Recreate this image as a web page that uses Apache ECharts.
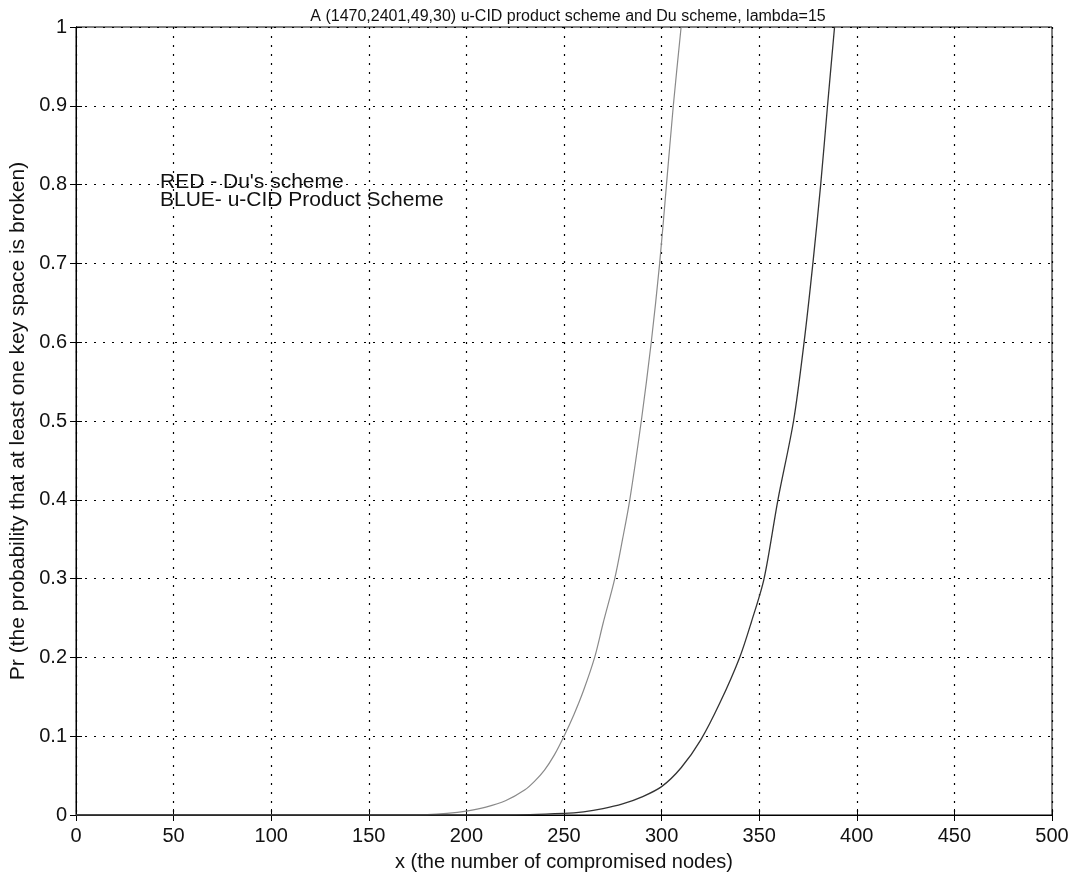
<!DOCTYPE html>
<html>
<head>
<meta charset="utf-8">
<title>u-CID product scheme and Du scheme</title>
<script src="https://cdn.jsdelivr.net/npm/echarts@6/dist/echarts.min.js"></script>
<style>
  html, body { margin: 0; padding: 0; background: #fff; }
  #chart { width: 1079px; height: 877px; }
</style>
</head>
<body>
<div id="chart"></div>
<script>
// x ticks / y ticks
const xTicks = [0, 50, 100, 150, 200, 250, 300, 350, 400, 450, 500];
const yTicks = [0, 0.1, 0.2, 0.3, 0.4, 0.5, 0.6, 0.7, 0.8, 0.9, 1];

// Du's scheme (left curve)
const duX = [0, 150, 180, 190, 200, 210, 220, 230, 235, 240, 245, 250, 255, 260, 265.7, 270, 276, 280, 283.7, 289.6, 294.7, 299, 302.5, 306, 310];
const duY = [0, 0, 0.0005, 0.002, 0.005, 0.01, 0.018, 0.032, 0.043, 0.057, 0.076, 0.1, 0.127, 0.158, 0.2, 0.243, 0.3, 0.35, 0.4, 0.5, 0.6, 0.7, 0.8, 0.9, 1.0];

// u-CID product scheme (right curve)
const cidX = [0, 220, 250, 260, 270, 280, 290, 300, 310, 320, 330, 340, 346, 352.5, 359.6, 367.6, 373, 377.5, 381.5, 385, 388.6];
const cidY = [0, 0, 0.002, 0.004, 0.008, 0.014, 0.023, 0.036, 0.06, 0.095, 0.143, 0.2, 0.245, 0.3, 0.4, 0.5, 0.6, 0.7, 0.8, 0.9, 1.0];

const zip = (xs, ys) => xs.map((x, i) => [x, ys[i]]);

const chart = echarts.init(document.getElementById('chart'));

const font = 'Liberation Sans, Arial, sans-serif';

const baseX = {
  type: 'value',
  min: 0,
  max: 500,
  interval: 50,
  axisLine: { show: true, lineStyle: { color: '#000', width: 1 } },
  axisTick: { show: true, inside: true, length: 6, lineStyle: { color: '#000' } },
  splitLine: { show: false }
};
const baseY = {
  type: 'value',
  min: 0,
  max: 1,
  interval: 0.1,
  axisLine: { show: true, lineStyle: { color: '#000', width: 1 } },
  axisTick: { show: true, inside: true, length: 6, lineStyle: { color: '#000' } },
  splitLine: { show: false }
};

const option = {
  backgroundColor: '#fff',
  animation: false,
  title: {
    text: 'A (1470,2401,49,30) u-CID product scheme and Du scheme, lambda=15',
    left: 563,
    textAlign: 'center',
    top: 4,
    textStyle: { fontFamily: font, fontSize: 16, fontWeight: 'normal', color: '#111' }
  },
  grid: {
    left: 76,
    right: 27,
    top: 27,
    bottom: 62,
    containLabel: false,
    outerBoundsMode: 'none',
    show: true,
    borderColor: '#000',
    borderWidth: 1
  },
  xAxis: [
    Object.assign({}, baseX, {
      position: 'bottom',
      name: 'x (the number of compromised nodes)',
      nameLocation: 'middle',
      nameGap: 37,
      nameTextStyle: { fontFamily: font, fontSize: 20, color: '#111' },
      axisLabel: {
        fontFamily: font, fontSize: 20, color: '#111', margin: 11,
        formatter: v => (xTicks.includes(v) ? String(v) : '')
      },
      splitLine: { show: true, lineStyle: { color: '#000', type: [2, 7], width: 1.2 } }
    }),
    Object.assign({}, baseX, { position: 'top', axisLabel: { show: false } })
  ],
  yAxis: [
    Object.assign({}, baseY, {
      position: 'left',
      name: 'Pr (the probability that at least one key space is broken)',
      nameLocation: 'middle',
      nameGap: 47,
      nameTextStyle: { fontFamily: font, fontSize: 21, color: '#111' },
      axisLabel: {
        fontFamily: font, fontSize: 20, color: '#111', margin: 9,
        formatter: v => {
          const t = yTicks.find(k => Math.abs(k - v) < 1e-9);
          return t === undefined ? '' : String(t);
        }
      },
      splitLine: { show: true, lineStyle: { color: '#000', type: [2, 7], width: 1.2 } }
    }),
    Object.assign({}, baseY, { position: 'right', axisLabel: { show: false } })
  ],
  graphic: [
    {
      type: 'text', left: 160, top: 172,
      style: { text: "RED - Du's scheme", font: '21px ' + font, fill: '#111' }
    },
    {
      type: 'text', left: 160, top: 190,
      style: { text: 'BLUE- u-CID Product Scheme', font: '21px ' + font, fill: '#111' }
    }
  ],
  series: [
    {
      name: "Du's scheme",
      type: 'line',
      data: zip(duX, duY),
      showSymbol: false,
      smooth: 0.3,
      clip: true,
      lineStyle: { color: '#8a8a8a', width: 1.2 }
    },
    {
      name: 'u-CID Product Scheme',
      type: 'line',
      data: zip(cidX, cidY),
      showSymbol: false,
      smooth: 0.3,
      clip: true,
      lineStyle: { color: '#333', width: 1.3 }
    }
  ]
};

chart.setOption(option);
</script>
</body>
</html>
